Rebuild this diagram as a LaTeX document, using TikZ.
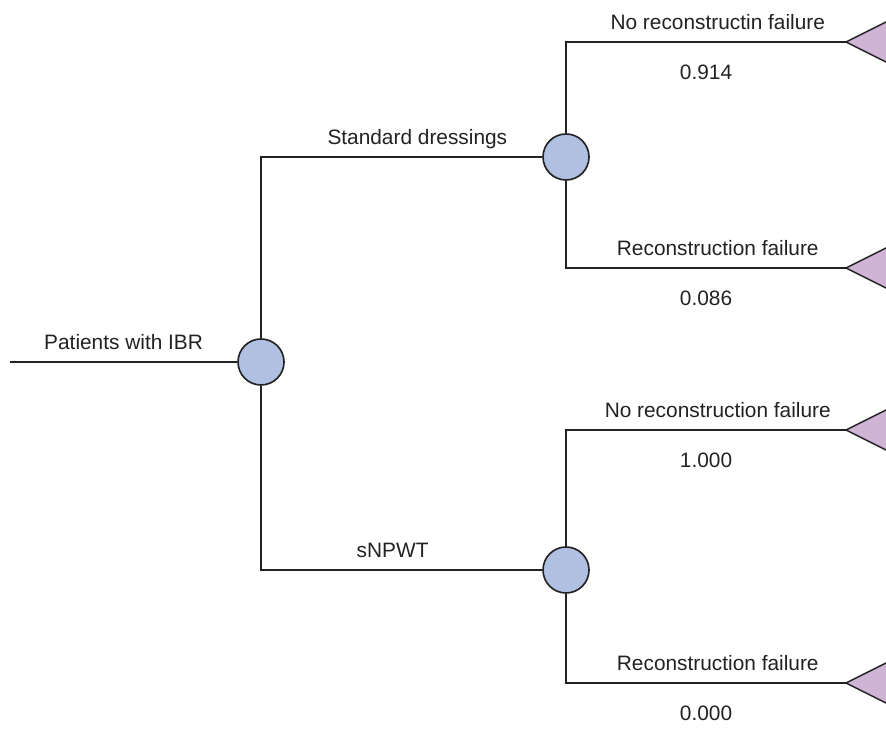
\documentclass[tikz,border=0pt]{standalone}
\usepackage{fontspec}
\setmainfont{Liberation Sans}
\usetikzlibrary{positioning}
\definecolor{chanceblue}{HTML}{AFC0E3}
\definecolor{endpurple}{HTML}{D0B4D6}
\definecolor{linegray}{HTML}{222222}

\begin{document}
\begin{tikzpicture}[x=1.5cm,y=1.5cm,
  line width=0.5pt, draw=linegray,
  font=\fontsize{8.9}{10.7}\selectfont, text=linegray,
  chance/.style={circle, draw=linegray, line width=0.7pt, fill=chanceblue, minimum size=0.69cm, inner sep=0pt},
  lab/.style={anchor=base, yshift=5.3pt, inner sep=0pt},
  prob/.style={anchor=base, yshift=-16pt, inner sep=0pt}]
\useasboundingbox (0,0) rectangle (8.86,7.34);
\clip (0,0) rectangle (8.86,7.34);
% Decision root
\coordinate (start) at (0.10,3.72);
\node[chance] (c0) at (2.61,3.72) {};
% Chance nodes
\node[chance] (c1) at (5.66,5.77) {};
\node[chance] (c2) at (5.66,1.64) {};
% Terminal tips
\coordinate (t1) at (8.46,6.92);
\coordinate (t2) at (8.46,4.66);
\coordinate (t3) at (8.46,3.04);
\coordinate (t4) at (8.46,0.51);
\foreach \t in {t1,t2,t3,t4}
  \filldraw[fill=endpurple, draw=linegray, line width=0.6pt]
    (\t) -- ++(0.45,0.225) -- ++(0,-0.45) -- cycle;
% Branches
\draw (start) -- node[lab, pos=0.5] {Patients with IBR} (c0.west);
\draw (c0.north) |- node[lab, pos=0.778] {Standard dressings} (c1.west);
\draw (c0.south) |- node[lab, pos=0.734] {sNPWT} (c2.west);
\draw (c1.north) |- node[lab, pos=0.771] {No reconstructin failure}
  node[prob, pos=0.75] {0.914} (t1);
\draw (c1.south) |- node[lab, pos=0.771] {Reconstruction failure}
  node[prob, pos=0.75] {0.086} (t2);
\draw (c2.north) |- node[lab, pos=0.771] {No reconstruction failure}
  node[prob, pos=0.75] {1.000} (t3);
\draw (c2.south) |- node[lab, pos=0.771] {Reconstruction failure}
  node[prob, pos=0.75] {0.000} (t4);
\end{tikzpicture}
\end{document}
